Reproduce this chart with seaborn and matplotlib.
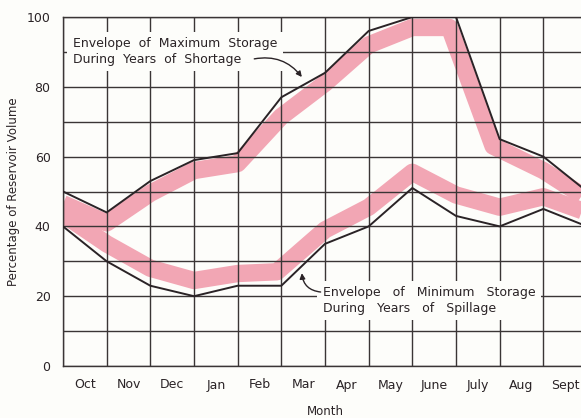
import matplotlib
matplotlib.use("Agg")
import matplotlib.pyplot as plt
import seaborn as sns
import pandas as pd

# Water-year months (labels sit between the month boundary lines)
months = ["Oct", "Nov", "Dec", "Jan", "Feb", "Mar", "Apr", "May",
          "June", "July", "Aug", "Sept"]
boundaries = [0, 1, 2, 3, 4, 5, 6, 7, 8, 9, 10, 11, 12]

# Envelope curves (percent of reservoir volume at each month boundary)
max_storage = [50, 44, 53, 59, 61, 77, 84, 96, 100, 100, 65, 60, 50]
min_storage = [40, 30, 23, 20, 23, 23, 35, 40, 51, 43, 40, 45, 40]

# Hand-shaded pink bands running alongside each envelope
shade_max_x = [0, 1, 2, 3, 4, 5, 6, 7, 8, 8.85, 9.85, 11, 12]
shade_max_y = [46.5, 41, 49.5, 56, 58, 71.5, 81, 92, 97, 97, 63, 56, 48]
shade_min_x = [0, 1, 2, 3, 4, 4.9, 6, 7, 8, 9, 10, 11, 12]
shade_min_y = [43.5, 35, 28, 24.5, 26.5, 27, 39, 45.5, 55.5, 49, 45.5, 48.5, 44]

y_major = [0, 20, 40, 60, 80, 100]
y_minor = [10, 30, 50, 70, 90]

BG = "#fdfdfa"
INK = "#2a2326"
GRID = "#3a3535"
PINK = "#f2a6b4"

sns.set_theme(style="white")
plt.rcParams["font.family"] = ["DejaVu Sans"]

fig = plt.figure(figsize=(5.81, 4.18), dpi=100, facecolor=BG)
ax = fig.add_axes([63 / 581, 52 / 418, 524 / 581, 349 / 418], facecolor=BG)

envelopes = pd.DataFrame({"month_pos": boundaries,
                          "maximum": max_storage,
                          "minimum": min_storage})
shade_hi = pd.DataFrame({"x": shade_max_x, "y": shade_max_y})
shade_lo = pd.DataFrame({"x": shade_min_x, "y": shade_min_y})

for band in (shade_hi, shade_lo):
    sns.lineplot(data=band, x="x", y="y", ax=ax, color=PINK, lw=12.5,
                 sort=False, estimator=None, zorder=1,
                 solid_joinstyle="round", solid_capstyle="butt")

for col in ("maximum", "minimum"):
    sns.lineplot(data=envelopes, x="month_pos", y=col, ax=ax, color=INK,
                 lw=1.4, sort=False, estimator=None, zorder=3)

ax.set_xlim(0, 12)
ax.set_ylim(0, 100)

# Grid: month boundaries vertically, every 10 % horizontally
ax.set_xticks(boundaries)
ax.set_xticklabels([""] * len(boundaries))
ax.set_xticks([b + 0.5 for b in boundaries[:-1]], minor=True)
ax.set_xticklabels(months, minor=True)
ax.set_yticks(y_major)
ax.set_yticklabels([str(v) for v in y_major])
ax.set_yticks(y_minor, minor=True)
ax.set_axisbelow("line")
ax.xaxis.grid(True, which="major", color=GRID, lw=1.0)
ax.yaxis.grid(True, which="both", color=GRID, lw=1.0)
ax.tick_params(axis="both", which="both", length=0, colors=INK,
               labelsize=9)
ax.tick_params(axis="x", which="minor", pad=9)
ax.tick_params(axis="y", which="major", pad=9)

for side in ("left", "bottom", "top"):
    ax.spines[side].set_color(GRID)
    ax.spines[side].set_linewidth(1.0)
ax.spines["right"].set_visible(False)

ax.set_xlabel("Month", fontsize=8.5, color=INK)
ax.xaxis.set_label_coords(0.5, -0.112)
ax.set_ylabel("Percentage of Reservoir Volume", fontsize=8.5, color=INK)
ax.yaxis.set_label_coords(-0.082, 0.5)

box = dict(boxstyle="square,pad=0.45", fc=BG, ec="none")
ax.text(0.23, 90.1, "Envelope  of  Maximum  Storage\nDuring  Years  of  Shortage",
        ha="left", va="center", fontsize=9, color=INK, linespacing=1.25,
        bbox=box, zorder=5)
ax.text(5.95, 18.8, "Envelope   of   Minimum   Storage\nDuring   Years   of   Spillage",
        ha="left", va="center", fontsize=9, color=INK, linespacing=1.25,
        bbox=box, zorder=5)

arrow_style = dict(arrowstyle="-|>", color=INK, lw=1.0, mutation_scale=8,
                   shrinkA=0, shrinkB=0)
ax.annotate("", xy=(5.47, 82.8), xytext=(4.38, 88.0),
            arrowprops=dict(connectionstyle="arc3,rad=-0.3", **arrow_style),
            zorder=6)
ax.annotate("", xy=(5.47, 26.6), xytext=(5.9, 21.2),
            arrowprops=dict(connectionstyle="arc3,rad=-0.4", **arrow_style),
            zorder=6)

fig.savefig("out.png", dpi=100, facecolor=BG)
